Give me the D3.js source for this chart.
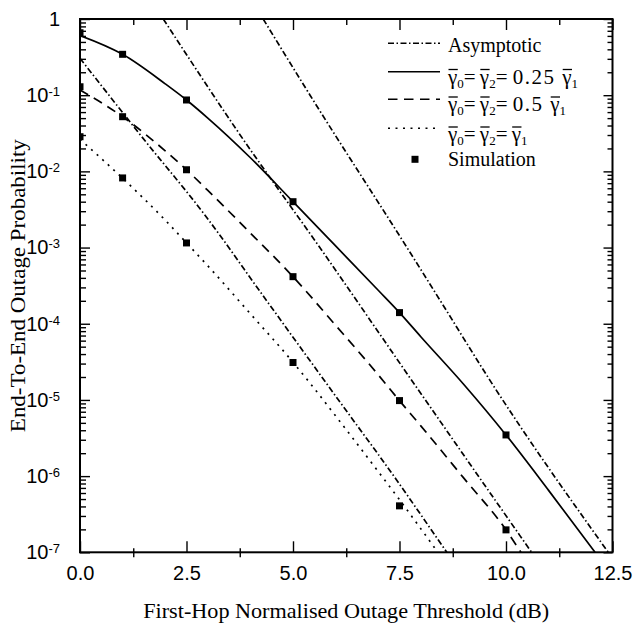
<!DOCTYPE html>
<html>
<head>
<meta charset="utf-8">
<script src="https://cdn.jsdelivr.net/npm/d3@7"></script>
<style>
body { margin: 0; background: #fff; }
svg { display: block; }
</style>
</head>
<body>
<svg class="main"></svg>
<script>
// curves (x in dB, y = outage probability)
const x025 = [0, 1, 2, 2.5, 3, 4, 5, 6, 7, 7.5, 8, 9, 10, 11, 12.09];
const y025 = [0.607, 0.344, 0.141, 0.0865, 0.0501, 0.0151, 0.0040, 1.05e-3, 2.75e-4, 1.40e-4, 6.76e-5, 1.62e-5, 3.47e-6, 6.5e-7, 1e-7];
const x05 = [0, 1, 2, 2.5, 3, 4, 5, 6, 7, 7.5, 8, 9, 10, 10.35];
const y05 = [0.117, 0.0522, 0.0186, 0.0105, 5.62e-3, 1.55e-3, 4.15e-4, 9.55e-5, 2.14e-5, 9.77e-6, 4.57e-6, 9.55e-7, 1.97e-7, 1e-7];
const x1 = [0, 1, 2, 2.5, 3, 4, 5, 5.4, 6, 7, 7.5, 8, 8.4];
const y1 = [0.0263, 8.13e-3, 2.29e-3, 1.15e-3, 5.75e-4, 1.35e-4, 3.12e-5, 1.66e-5, 6.17e-6, 1.15e-6, 4.9e-7, 2.04e-7, 1e-7];

// asymptotic curves
const xAsym1 = [0, 1.45, 2.93, 4.34, 6.38, 7.04, 8.61];
const yAsym1 = [0.305, 0.0285, 2.68e-3, 2.16e-4, 5.75e-6, 1.80e-6, 1e-7];
const xAsym05 = [1.955, 3.68, 5.67, 7.78, 10.6];
const yAsym05 = [1, 0.0349, 9.29e-4, 1.83e-5, 1e-7];
const xAsym025 = [4.30, 5.40, 7.71, 8.45, 9.62, 12.40];
const yAsym025 = [1, 0.1, 9.33e-4, 2.04e-4, 1.82e-5, 1e-7];

// simulation points
const simX = [0, 1, 2.5, 5, 7.5, 10];
const sim025 = [0.66, 0.344, 0.0865, 4.0e-3, 1.40e-4, 3.47e-6];
const sim05 = [0.129, 0.0522, 0.0105, 4.15e-4, 9.8e-6, 1.97e-7];
const sim1 = [0.0285, 8.2e-3, 1.15e-3, 3.1e-5, 4.07e-7];

const xTicks = [0, 2.5, 5, 7.5, 10, 12.5];
const xMinorTicks = [1.25, 3.75, 6.25, 8.75, 11.25];
const yExps = [0, -1, -2, -3, -4, -5, -6, -7];

const width = 633, height = 628;
const pLeft = 80, pRight = 612.5, pTop = 19, pBottom = 552.3;
const serif = "'Liberation Serif', 'Times New Roman', serif";
const sans = "'Liberation Sans', Arial, sans-serif";

const svg = d3.select("svg.main").attr("width", width).attr("height", height);

const x = d3.scaleLinear().domain([0, 12.5]).range([pLeft, pRight]);
const y = d3.scaleLog().domain([1e-7, 1]).range([pBottom, pTop]);

svg.append("clipPath").attr("id", "plotclip")
  .append("rect").attr("x", pLeft).attr("y", pTop)
  .attr("width", pRight - pLeft).attr("height", pBottom - pTop);

const plot = svg.append("g").attr("clip-path", "url(#plotclip)");

const line = d3.line().x(d => x(d[0])).y(d => y(d[1])).curve(d3.curveMonotoneX);

const dashAsym = "6,2.5,1.5,2.5";
const dashDash = "9.5,6.5";
const dashDot = "2,5.5";

const curves = [
  {xs: xAsym1, ys: yAsym1, dash: dashAsym},
  {xs: xAsym05, ys: yAsym05, dash: dashAsym},
  {xs: xAsym025, ys: yAsym025, dash: dashAsym},
  {xs: x025, ys: y025, dash: null},
  {xs: x05, ys: y05, dash: dashDash},
  {xs: x1, ys: y1, dash: dashDot}
];

curves.forEach(c => {
  plot.append("path")
    .datum(d3.zip(c.xs, c.ys))
    .attr("d", line)
    .attr("fill", "none")
    .attr("stroke", "#000")
    .attr("stroke-width", 1.7)
    .attr("stroke-dasharray", c.dash);
});

const sq = 7;
[sim025, sim05, sim1].forEach(s => {
  plot.selectAll(null)
    .data(d3.zip(simX.slice(0, s.length), s))
    .join("rect")
    .attr("x", d => x(d[0]) - sq / 2)
    .attr("y", d => y(d[1]) - sq / 2)
    .attr("width", sq)
    .attr("height", sq)
    .attr("fill", "#000");
});

// axes
const yMajor = yExps.map(e => Math.pow(10, e));
const yMinor = [];
for (let e = -7; e < 0; e++) {
  for (let m = 2; m <= 9; m++) yMinor.push(m * Math.pow(10, e));
}

function cleanAxis(g) {
  g.select(".domain").remove();
  g.selectAll(".tick line").attr("stroke-width", 1.4);
}

const gx = svg.append("g").attr("transform", `translate(0,${pBottom})`)
  .call(d3.axisBottom(x).tickValues(xTicks).tickSize(-11).tickSizeOuter(0).tickPadding(14)
    .tickFormat(d3.format(".1f")))
  .call(cleanAxis);
gx.attr("font-size", 20).attr("font-family", sans);

svg.append("g").attr("transform", `translate(0,${pBottom})`)
  .call(d3.axisBottom(x).tickValues(xMinorTicks).tickSize(-4).tickSizeOuter(0).tickFormat(""))
  .call(cleanAxis)
  .selectAll(".tick line").attr("y1", 5);

svg.append("g").attr("transform", `translate(0,${pTop})`)
  .call(d3.axisTop(x).tickValues(xTicks).tickSize(-11).tickSizeOuter(0).tickFormat(""))
  .call(cleanAxis);
svg.append("g").attr("transform", `translate(0,${pTop})`)
  .call(d3.axisTop(x).tickValues(xMinorTicks).tickSize(-6).tickSizeOuter(0).tickFormat(""))
  .call(cleanAxis);

const gy = svg.append("g").attr("transform", `translate(${pLeft},0)`)
  .call(d3.axisLeft(y).tickValues(yMajor).tickSize(-10).tickSizeOuter(0).tickPadding(20)
    .tickFormat(() => ""))
  .call(cleanAxis);
gy.attr("font-size", 20).attr("font-family", sans);
gy.selectAll(".tick text").each(function(d) {
  const e = Math.round(Math.log10(d));
  const t = d3.select(this);
  if (e === 0) { t.text("1"); return; }
  t.append("tspan").text("10");
  t.append("tspan").attr("dy", -6).attr("font-size", 13).text(e);
});

svg.append("g").attr("transform", `translate(${pLeft},0)`)
  .call(d3.axisLeft(y).tickValues(yMinor).tickSize(-6).tickSizeOuter(0).tickFormat(""))
  .call(cleanAxis);
svg.append("g").attr("transform", `translate(${pRight},0)`)
  .call(d3.axisRight(y).tickValues(yMajor).tickSize(-9).tickSizeOuter(0).tickFormat(""))
  .call(cleanAxis);
svg.append("g").attr("transform", `translate(${pRight},0)`)
  .call(d3.axisRight(y).tickValues(yMinor).tickSize(-5).tickSizeOuter(0).tickFormat(""))
  .call(cleanAxis);

svg.append("rect")
  .attr("x", pLeft).attr("y", pTop)
  .attr("width", pRight - pLeft).attr("height", pBottom - pTop)
  .attr("fill", "none").attr("stroke", "#000").attr("stroke-width", 2);

// titles
svg.append("text")
  .attr("x", (pLeft + pRight) / 2).attr("y", 618)
  .attr("text-anchor", "middle").attr("font-size", 21).attr("font-family", serif)
  .attr("textLength", 406).attr("lengthAdjust", "spacingAndGlyphs")
  .text("First-Hop Normalised Outage Threshold (dB)");

svg.append("text")
  .attr("transform", `translate(25,${(pTop + pBottom) / 2}) rotate(-90)`)
  .attr("text-anchor", "middle").attr("font-size", 21).attr("font-family", serif)
  .attr("textLength", 293).attr("lengthAdjust", "spacingAndGlyphs")
  .text("End-To-End Outage Probability");

// legend
const legend = svg.append("g").attr("font-family", serif);
const lx0 = 388, lx1 = 440, tx = 448;

function sample(yy, dash) {
  legend.append("line").attr("x1", lx0).attr("x2", lx1).attr("y1", yy).attr("y2", yy)
    .attr("stroke", "#000").attr("stroke-width", 1.6).attr("stroke-dasharray", dash);
}

function mathLabel(base, parts) {
  const t = legend.append("text").attr("x", tx).attr("y", base)
    .attr("font-size", 21).style("white-space", "pre");
  let shift = 0;
  const bars = [];
  parts.forEach(p => {
    const s = t.append("tspan").text(p.s);
    if (p.sub) {
      s.attr("font-size", 13).attr("dy", 4 - shift);
      shift = 4;
    } else if (shift) {
      s.attr("dy", -shift);
      shift = 0;
    }
    if (p.ls) s.attr("letter-spacing", p.ls);
    if (p.bar) bars.push(s.node());
  });
  bars.forEach(n => {
    const p0 = n.getStartPositionOfChar(0);
    const w = n.getComputedTextLength();
    legend.append("line")
      .attr("x1", p0.x + 0.5).attr("x2", p0.x + w + 0.5)
      .attr("y1", base - 14).attr("y2", base - 14)
      .attr("stroke", "#000").attr("stroke-width", 1.3);
  });
}

const G = {s: "\u03b3", bar: true};
sample(43.3, dashAsym);
legend.append("text").attr("x", tx).attr("y", 51.7).attr("font-size", 20).text("Asymptotic");

sample(71.7, null);
mathLabel(83.5, [G, {s: "0", sub: true}, {s: "=\u2009"}, G, {s: "2", sub: true},
  {s: "= "}, {s: "0.25 ", ls: 1.5}, G, {s: "1", sub: true}]);

sample(99.3, dashDash);
mathLabel(111, [G, {s: "0", sub: true}, {s: "=\u2009"}, G, {s: "2", sub: true},
  {s: "= "}, {s: "0.5 ", ls: 1.5}, G, {s: "1", sub: true}]);

sample(128.3, dashDot);
mathLabel(141, [G, {s: "0", sub: true}, {s: "=\u2009"}, G, {s: "2", sub: true},
  {s: "=\u2009"}, G, {s: "1", sub: true}]);

legend.append("rect").attr("x", 415 - 3.5).attr("y", 159.3 - 3.5)
  .attr("width", 7).attr("height", 7).attr("fill", "#000");
legend.append("text").attr("x", tx).attr("y", 166).attr("font-size", 20).text("Simulation");
</script>
</body>
</html>
